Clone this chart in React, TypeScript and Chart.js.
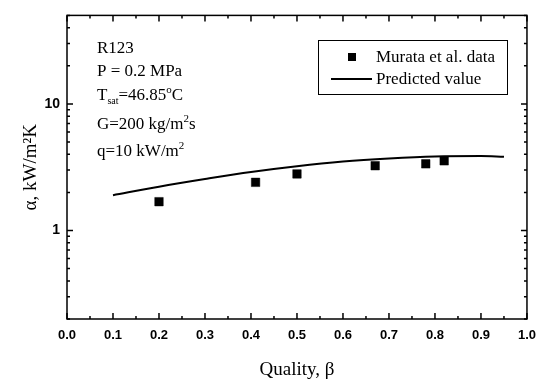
import React, { useEffect, useRef } from 'react';
import { Chart, registerables } from 'chart.js';

Chart.register(...registerables);

// Experimental data (Murata et al.)
const dataQuality = [0.2, 0.41, 0.5, 0.67, 0.78, 0.82];
const dataAlpha = [1.69, 2.4, 2.8, 3.25, 3.36, 3.55];

// Predicted curve
const predQuality = [0.1, 0.2, 0.3, 0.4, 0.5, 0.6, 0.7, 0.8, 0.9, 0.95];
const predAlpha = [1.9, 2.22, 2.55, 2.9, 3.22, 3.5, 3.7, 3.84, 3.87, 3.82];

// Axis ticks
const xMajorTicks = [0, 0.1, 0.2, 0.3, 0.4, 0.5, 0.6, 0.7, 0.8, 0.9, 1.0];
const xMinorTicks = [0.05, 0.15, 0.25, 0.35, 0.45, 0.55, 0.65, 0.75, 0.85, 0.95];
const yMajorTicks = [1, 10];
const yMinorTicks = [0.2, 0.3, 0.4, 0.5, 0.6, 0.7, 0.8, 0.9, 2, 3, 4, 5, 6, 7, 8, 9, 20, 30, 40, 50];

const legendLabels = ['Murata et al. data', 'Predicted value'];
const xTitle = 'Quality, β';
const yTitle = 'α, kW/m²K';

// Annotation text: segments [text, kind] where kind: n normal, sub, sup
const annotationLines: [string, string][][] = [
  [['R123', 'n']],
  [['P = 0.2 MPa', 'n']],
  [['T', 'n'], ['sat', 'sub'], ['=46.85', 'n'], ['o', 'sup'], ['C', 'n']],
  [['G=200 kg/m', 'n'], ['2', 'sup'], ['s', 'n']],
  [['q=10 kW/m', 'n'], ['2', 'sup']],
];

const SERIF = '"Liberation Serif", "Times New Roman", serif';
const SANS = '"Liberation Sans", Arial, sans-serif';

const decorPlugin = {
  id: 'decor',
  afterDraw(chart: any) {
    const ctx = chart.ctx;
    const area = chart.chartArea;
    const xs = chart.scales.x;
    const ys = chart.scales.y;
    ctx.save();
    ctx.strokeStyle = '#000';
    ctx.fillStyle = '#000';

    // frame
    ctx.lineWidth = 1.5;
    ctx.strokeRect(area.left, area.top, area.right - area.left, area.bottom - area.top);

    // ticks (inward)
    ctx.lineWidth = 1.5;
    const drawX = (v: number, len: number) => {
      const px = xs.getPixelForValue(v);
      ctx.beginPath();
      ctx.moveTo(px, area.bottom);
      ctx.lineTo(px, area.bottom - len);
      ctx.moveTo(px, area.top);
      ctx.lineTo(px, area.top + len);
      ctx.stroke();
    };
    const drawY = (v: number, len: number) => {
      const py = ys.getPixelForValue(v);
      ctx.beginPath();
      ctx.moveTo(area.left, py);
      ctx.lineTo(area.left + len, py);
      ctx.moveTo(area.right, py);
      ctx.lineTo(area.right - len, py);
      ctx.stroke();
    };
    xMajorTicks.forEach((v) => drawX(v, 6));
    xMinorTicks.forEach((v) => drawX(v, 3));
    yMajorTicks.forEach((v) => drawY(v, 6));
    yMinorTicks.forEach((v) => drawY(v, 3));

    // annotations
    const ax = area.left + 30;
    const baselines = [45, 68, 92, 121, 148];
    ctx.textBaseline = 'alphabetic';
    ctx.textAlign = 'left';
    annotationLines.forEach((segs, i) => {
      let x = ax;
      const y = area.top + baselines[i] - 7;
      segs.forEach(([t, kind]) => {
        if (kind === 'sub') {
          ctx.font = `10px ${SERIF}`;
          ctx.fillText(t, x, y + 4);
        } else if (kind === 'sup') {
          ctx.font = `11px ${SERIF}`;
          ctx.fillText(t, x, y - 7);
        } else {
          ctx.font = `17px ${SERIF}`;
          ctx.fillText(t, x, y);
        }
        x += ctx.measureText(t).width;
      });
    });

    // legend
    const lx0 = 318, ly0 = 40, lx1 = 507, ly1 = 94;
    ctx.lineWidth = 1;
    ctx.strokeRect(lx0 + 0.5, ly0 + 0.5, lx1 - lx0, ly1 - ly0);
    ctx.fillRect(352 - 4, 57 - 4, 8, 8);
    ctx.lineWidth = 2;
    ctx.beginPath();
    ctx.moveTo(331, 79);
    ctx.lineTo(372, 79);
    ctx.stroke();
    ctx.font = `17px ${SERIF}`;
    ctx.textBaseline = 'middle';
    ctx.fillText(legendLabels[0], 376, 58);
    ctx.fillText(legendLabels[1], 376, 80);

    ctx.restore();
  },
};

export default function App() {
  const canvasRef = useRef<HTMLCanvasElement | null>(null);

  useEffect(() => {
    if (!canvasRef.current) return;
    const chart = new Chart(canvasRef.current, {
      type: 'scatter',
      data: {
        datasets: [
          {
            label: legendLabels[0],
            data: dataQuality.map((q, i) => ({ x: q, y: dataAlpha[i] })),
            backgroundColor: '#000',
            borderColor: '#000',
            pointStyle: 'rect',
            pointRadius: 6,
            pointBorderWidth: 0.5,
            showLine: false,
          },
          {
            label: legendLabels[1],
            type: 'line',
            data: predQuality.map((q, i) => ({ x: q, y: predAlpha[i] })),
            borderColor: '#000',
            backgroundColor: '#000',
            borderWidth: 2,
            pointRadius: 0,
            cubicInterpolationMode: 'monotone',
            fill: false,
          } as any,
        ],
      },
      options: {
        animation: false,
        responsive: true,
        maintainAspectRatio: false,
        layout: { padding: { top: 7, right: 16, left: 0, bottom: 0 } },
        plugins: {
          legend: { display: false },
          tooltip: { enabled: false },
        },
        scales: {
          x: {
            type: 'linear',
            min: 0,
            max: 1,
            grid: { display: false, drawTicks: false },
            border: { display: false },
            afterBuildTicks: (scale: any) => {
              scale.ticks = xMajorTicks.map((v) => ({ value: v }));
            },
            afterFit: (scale: any) => {
              scale.height = 62;
            },
            ticks: {
              color: '#000',
              padding: 9,
              maxRotation: 0,
              autoSkip: false,
              font: { family: SANS, size: 13, weight: 'bold' },
              callback: (v: any) => Number(v).toFixed(1),
            },
            title: {
              display: true,
              text: xTitle,
              color: '#000',
              font: { family: SERIF, size: 19 },
              padding: { top: 0, bottom: 0 },
            },
          },
          y: {
            type: 'logarithmic',
            min: 0.2,
            max: 50,
            grid: { display: false, drawTicks: false },
            border: { display: false },
            afterBuildTicks: (scale: any) => {
              scale.ticks = yMajorTicks.map((v) => ({ value: v }));
            },
            afterFit: (scale: any) => {
              scale.width = 67;
            },
            ticks: {
              color: '#000',
              padding: 7,
              autoSkip: false,
              font: { family: SANS, size: 14, weight: 'bold' },
              callback: (v: any) => String(v),
            },
            title: {
              display: true,
              text: yTitle,
              color: '#000',
              font: { family: SERIF, size: 19 },
              padding: { top: 20, bottom: 0 },
            },
          },
        },
      } as any,
      plugins: [decorPlugin],
    });
    return () => chart.destroy();
  }, []);

  return (
    <div style={{ position: 'fixed', left: 0, top: 0, width: 545, height: 381, background: '#fff' }}>
      <canvas ref={canvasRef} />
    </div>
  );
}
